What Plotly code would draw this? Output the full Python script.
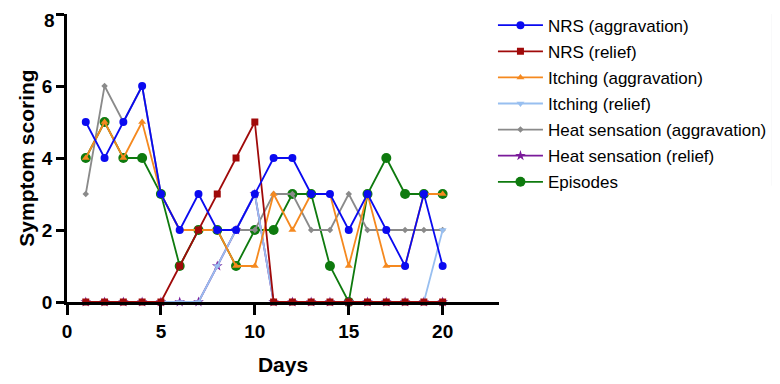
import plotly.graph_objects as go

days = list(range(1, 21))
nrs_aggravation = [5, 4, 5, 6, 3, 2, 3, 2, 2, 3, 4, 4, 3, 3, 2, 3, 2, 1, 3, 1]
nrs_relief = [0, 0, 0, 0, 0, 1, 2, 3, 4, 5, 0, 0, 0, 0, 0, 0, 0, 0, 0, 0]
itching_aggravation = [4, 5, 4, 5, 3, 2, 2, 2, 1, 1, 3, 2, 3, 3, 1, 3, 1, 1, 3, 3]
itching_relief = [0, 0, 0, 0, 0, 0, 0, 1, 2, 3, 0, 0, 0, 0, 0, 0, 0, 0, 0, 2]
heat_aggravation = [3, 6, 5, 6, 3, 2, 2, 2, 2, 2, 3, 3, 2, 2, 3, 2, 2, 2, 2, 2]
heat_relief = [0, 0, 0, 0, 0, 0, 0, 1, 2, 3, 0, 0, 0, 0, 0, 0, 0, 0, 0, 0]
episodes = [4, 5, 4, 4, 3, 1, 2, 2, 1, 2, 2, 3, 3, 1, 0, 3, 4, 3, 3, 3]

x_ticks = [0, 5, 10, 15, 20]
y_ticks = [0, 2, 4, 6, 8]

series = [
    ("NRS (aggravation)", nrs_aggravation, "#0A0AF0", "circle", 8),
    ("NRS (relief)", nrs_relief, "#A00A0A", "square", 7),
    ("Itching (aggravation)", itching_aggravation, "#F5891F", "triangle-up", 7),
    ("Itching (relief)", itching_relief, "#98BFF0", "triangle-down", 7),
    ("Heat sensation (aggravation)", heat_aggravation, "#8A8A8A", "diamond", 5),
    ("Heat sensation (relief)", heat_relief, "#7A1A9A", "star", 8),
    ("Episodes", episodes, "#0E7A0E", "circle", 10),
]

fig = go.Figure()
# draw in reverse so the first series sits on top
for rank, (name, vals, color, sym, size) in reversed(list(enumerate(series))):
    fig.add_trace(go.Scatter(
        x=days, y=vals, name=name, mode="lines+markers",
        line=dict(color=color, width=1.8),
        marker=dict(color=color, symbol=sym, size=size),
        legendrank=rank + 1, legendgroup=name, cliponaxis=False,
    ))

font_family = "Arial, Liberation Sans, sans-serif"
tick_font = dict(size=19, family=font_family, color="black", weight="bold")

# the top tick label sits a little lower (as in the reference) so it is not cut off
y_ticktext = [str(v) for v in y_ticks[:-1]] + [""]
fig.add_annotation(text=str(y_ticks[-1]), xref="paper", x=0, xanchor="right", xshift=-10,
                   yref="y", y=y_ticks[-1], yanchor="middle", yshift=-6,
                   showarrow=False, font=tick_font)

fig.update_layout(
    width=764, height=368,
    margin=dict(l=59, r=273, t=6, b=74, autoexpand=False),
    paper_bgcolor="white", plot_bgcolor="white",
    font=dict(family=font_family, color="black"),
    showlegend=True,
    legend=dict(x=0.986, xanchor="left", y=1.022, yanchor="top",
                font=dict(size=17, family=font_family, color="black"),
                tracegroupgap=1, itemwidth=45, bgcolor="rgba(0,0,0,0)"),
    xaxis=dict(range=[0, 23], tickvals=x_ticks, ticktext=[str(v) for v in x_ticks],
               automargin=False,
               showgrid=False, zeroline=False, showline=True, linecolor="black", linewidth=2.5,
               ticks="outside", ticklen=10, tickwidth=2.5, tickcolor="black",
               tickfont=tick_font,
               title=dict(text="<b>Days</b>", font=dict(size=21, family=font_family, color="black"),
                          standoff=22)),
    yaxis=dict(range=[0, 8], tickvals=y_ticks, ticktext=y_ticktext,
               automargin=False,
               showgrid=False, zeroline=False, showline=True, linecolor="black", linewidth=2.5,
               ticks="outside", ticklen=8, tickwidth=2.5, tickcolor="black",
               tickfont=tick_font,
               title=dict(text="<b>Symptom scoring</b>", font=dict(size=21, family=font_family, color="black"),
                          standoff=2)),
)

fig.write_html("out.html")
